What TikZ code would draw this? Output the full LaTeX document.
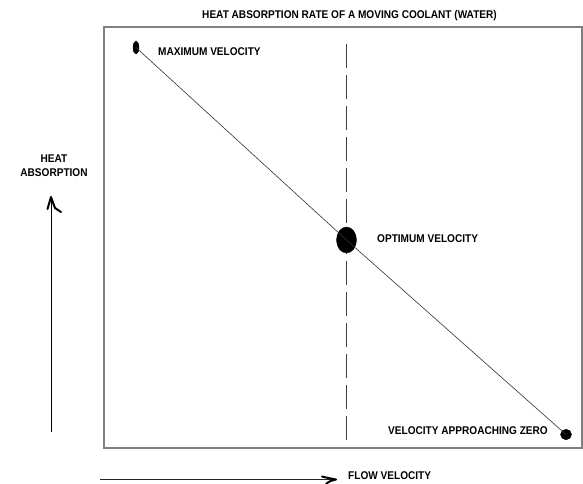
\documentclass[tikz,border=0pt]{standalone}
\usepackage{fontspec}
\setmainfont{Liberation Sans}[FakeStretch=0.9]
\usetikzlibrary{shapes.geometric}
\begin{document}
\begin{tikzpicture}[x=1pt,y=-1pt,
  lbl/.style={font=\fontsize{11.2}{12}\selectfont\bfseries, text=black, inner sep=0pt},
  dot/.style={ellipse, fill=black, draw=black, inner sep=0pt},
  frame/.style={draw=black!50, line width=1.5pt},
  handhead/.style={line width=2pt, line cap=round, line join=round}]
\useasboundingbox (0,0) rectangle (583,484);
\draw[frame] (104,27) rectangle (582,448);
% dashed vertical
\coordinate (dtop) at (346.5,44);
\coordinate (dbot) at (346.5,442);
\draw[black!75, line width=1pt, dash pattern=on 24pt off 7pt] (dtop) -- (dbot);
% dots
\node[dot, minimum width=6pt, minimum height=13pt] (maxv) at (136,47.5) {};
\node[dot, minimum width=20pt, minimum height=26pt] (optv) at (346.5,240) {};
\node[dot, minimum width=11pt, minimum height=10.5pt] (zerov) at (566,434.5) {};
\draw[black!80, line width=0.6pt] (maxv.center) -- (optv.center) -- (zerov.center);
% labels
\node[lbl, anchor=west] (tmax) at (158,52) {MAXIMUM VELOCITY};
\node[lbl, anchor=west] (topt) at (377,239) {OPTIMUM VELOCITY};
\node[lbl, anchor=west] (tzero) at (388,431) {VELOCITY APPROACHING ZERO};
\node[lbl] (title) at (349.5,16) {HEAT ABSORPTION RATE OF A MOVING COOLANT (WATER)};
\node[lbl, align=center, font=\fontsize{11.2}{13.5}\selectfont\bfseries] (yl) at (54,165.5) {HEAT\\ABSORPTION};
\node[lbl, anchor=west] (xlab) at (348,476) {FLOW VELOCITY};
% y axis
\coordinate (ybot) at (51,432);
\coordinate (ytop) at (51,197);
\draw[black, line width=1pt] (ybot) -- (ytop);
\draw[handhead] (47.5,209) -- (ytop) -- (55,208) -- (61,212);
% x axis
\coordinate (xl) at (100,479.5);
\coordinate (xr) at (336,479.5);
\draw[black!85, line width=1pt] (xl) -- (xr);
\draw[handhead] (322,476.5) .. controls (328,478) .. (xr) .. controls (330,481) .. (326,484);
\end{tikzpicture}
\end{document}
